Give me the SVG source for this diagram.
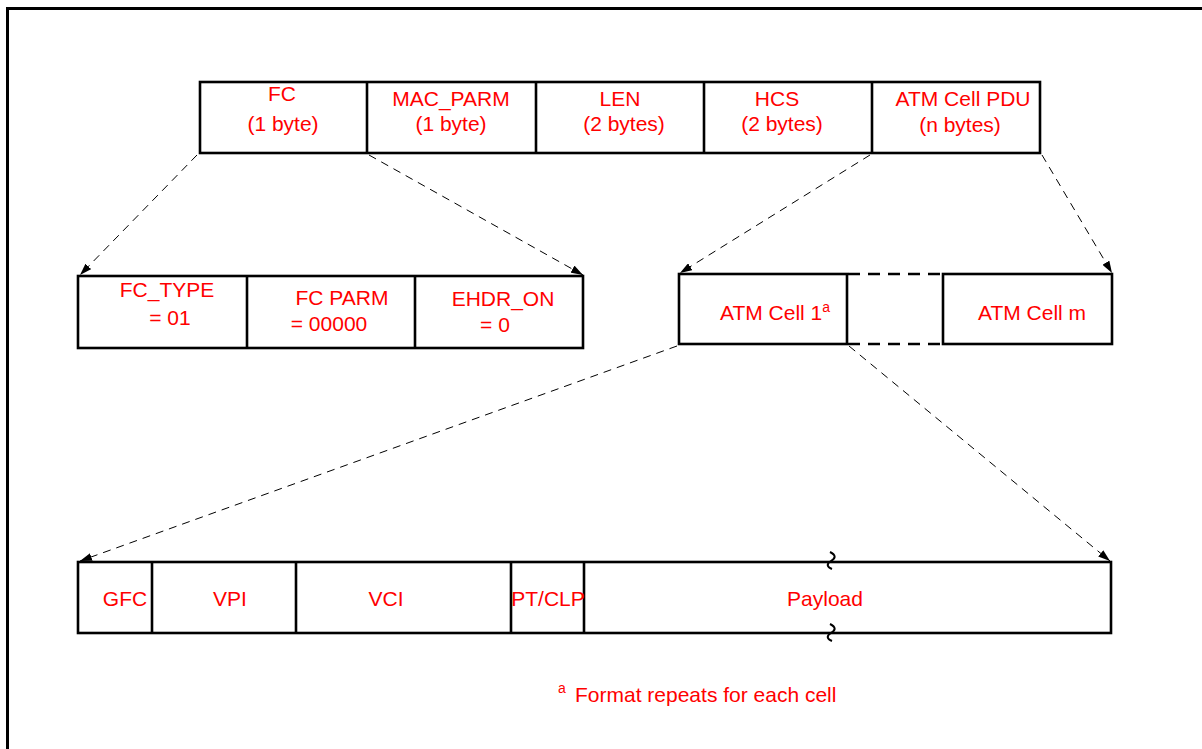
<svg xmlns="http://www.w3.org/2000/svg" width="1202" height="749" viewBox="0 0 1202 749">
<style>
.box{fill:none;stroke:#000;stroke-width:2.6}
.div{stroke:#000;stroke-width:2.6}
.t{font-family:"Liberation Sans",Arial,sans-serif;font-size:21px;fill:#ff0000;text-anchor:middle}
.ts{font-family:"Liberation Sans",Arial,sans-serif;font-size:21px;fill:#ff0000}
.sup{font-family:"Liberation Sans",Arial,sans-serif;font-size:14px;fill:#ff0000}
.conn{fill:none;stroke:#000;stroke-width:1;stroke-dasharray:8 6}
.gap{fill:none;stroke:#000;stroke-width:2.6;stroke-dasharray:12 8}
.brk{fill:none;stroke:#000;stroke-width:2}
</style>
<defs>
<marker id="arr" markerUnits="userSpaceOnUse" markerWidth="12" markerHeight="8" refX="12" refY="4" orient="auto">
<path d="M0,0 L12,4 L0,8 z" fill="#000"/>
</marker>
</defs>
<rect width="1202" height="749" fill="#fff"/>
<g id="frame">
<path d="M7.5,749 V8.5 H1202" fill="none" stroke="#000" stroke-width="3"/>
</g>
<g id="header">
<rect class="box" x="200" y="82" width="840" height="71"/>
<line class="div" x1="367" y1="82" x2="367" y2="153"/>
<line class="div" x1="536" y1="82" x2="536" y2="153"/>
<line class="div" x1="704" y1="82" x2="704" y2="153"/>
<line class="div" x1="872" y1="82" x2="872" y2="153"/>
<text class="t" x="282" y="101">FC</text>
<text class="t" x="283" y="131">(1 byte)</text>
<text class="t" x="451" y="106">MAC_PARM</text>
<text class="t" x="451" y="131">(1 byte)</text>
<text class="t" x="620" y="106">LEN</text>
<text class="t" x="624" y="131">(2 bytes)</text>
<text class="t" x="777" y="106">HCS</text>
<text class="t" x="782" y="131">(2 bytes)</text>
<text class="t" x="963" y="106">ATM Cell PDU</text>
<text class="t" x="960" y="132">(n bytes)</text>
</g>
<g id="fc-detail">
<rect class="box" x="78" y="276" width="505" height="72"/>
<line class="div" x1="247" y1="276" x2="247" y2="348"/>
<line class="div" x1="415" y1="276" x2="415" y2="348"/>
<text class="t" x="167" y="297">FC_TYPE</text>
<text class="t" x="170" y="325">= 01</text>
<text class="t" x="342" y="305">FC PARM</text>
<text class="t" x="329" y="331">= 00000</text>
<text class="t" x="503" y="306">EHDR_ON</text>
<text class="t" x="495" y="332">= 0</text>
</g>
<g id="atm-cell-1">
<rect class="box" x="679" y="274" width="168" height="70"/>
<text class="ts" x="720" y="320">ATM Cell 1<tspan class="sup" dy="-8">a</tspan></text>
</g>
<g id="atm-cell-gap">
<line class="gap" x1="848" y1="274" x2="943" y2="274"/>
<line class="gap" x1="848" y1="344" x2="943" y2="344"/>
</g>
<g id="atm-cell-m">
<rect class="box" x="943" y="274" width="169" height="70"/>
<text class="t" x="1032" y="320">ATM Cell m</text>
</g>
<g id="cell-detail">
<rect class="box" x="78" y="562" width="1033" height="71"/>
<line class="div" x1="152" y1="562" x2="152" y2="633"/>
<line class="div" x1="296" y1="562" x2="296" y2="633"/>
<line class="div" x1="511" y1="562" x2="511" y2="633"/>
<line class="div" x1="584" y1="562" x2="584" y2="633"/>
<path class="brk" d="M830,552 C836,555 836,558 831,561 C826,564 827,567 832,569"/>
<path class="brk" d="M830,624 C836,627 836,630 831,633 C826,636 827,639 832,641"/>
<text class="t" x="125" y="606">GFC</text>
<text class="t" x="230" y="606">VPI</text>
<text class="t" x="386" y="606">VCI</text>
<text class="t" x="548" y="606">PT/CLP</text>
<text class="t" x="825" y="606">Payload</text>
</g>
<g id="footnote">
<text class="sup" x="558" y="693">a</text>
<text class="ts" x="575" y="702">Format repeats for each cell</text>
</g>
<g id="connectors">
<line class="conn" x1="197" y1="155" x2="80" y2="275" marker-end="url(#arr)"/>
<line class="conn" x1="369" y1="155" x2="583" y2="275" marker-end="url(#arr)"/>
<line class="conn" x1="870" y1="155" x2="680" y2="273" marker-end="url(#arr)"/>
<line class="conn" x1="1042" y1="155" x2="1112" y2="273" marker-end="url(#arr)"/>
<line class="conn" x1="677" y1="346" x2="80" y2="561" marker-end="url(#arr)"/>
<line class="conn" x1="849" y1="346" x2="1110" y2="561" marker-end="url(#arr)"/>
</g>
</svg>
